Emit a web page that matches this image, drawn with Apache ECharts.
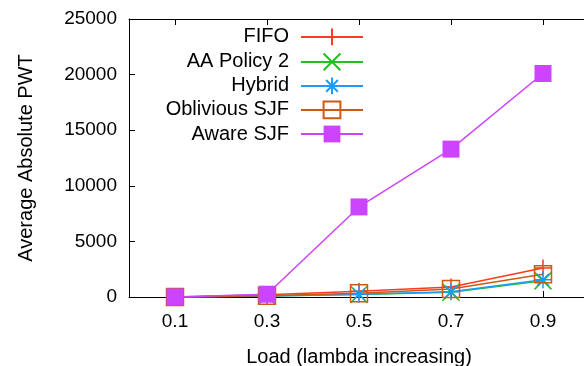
<!DOCTYPE html>
<html>
<head>
<meta charset="utf-8">
<script src="https://cdn.jsdelivr.net/npm/echarts@6/dist/echarts.min.js"></script>
<style>
  html, body { margin: 0; padding: 0; background: #fff; }
  #chart { width: 584px; height: 366px; }
</style>
</head>
<body>
<div id="chart"></div>
<script>
// --- data ---
const loads = [0.1, 0.3, 0.5, 0.7, 0.9];
const fifo = [10, 200, 520, 900, 2600];
const aaPolicy2 = [5, 90, 220, 420, 1450];
const hybrid = [5, 100, 250, 480, 1550];
const obliviousSjf = [8, 120, 330, 720, 2050];
const awareSjf = [10, 250, 8100, 13300, 20100];
const yTicks = [0, 5000, 10000, 15000, 20000, 25000];

const seriesNames = ['FIFO', 'AA Policy 2', 'Hybrid', 'Oblivious SJF', 'Aware SJF'];
const seriesValues = [fifo, aaPolicy2, hybrid, obliviousSjf, awareSjf];
const colors = ['#ff3a1e', '#1fc21f', '#1a9cff', '#cc5a14', '#cc44ff'];
const symbols = [
    'path://M5,0V10M0,5H10',
    'path://M0,0L10,10M10,0L0,10',
    'path://M0,5H10M5,0V10M1.5,1.5L8.5,8.5M8.5,1.5L1.5,8.5',
    'path://M0,0H10V10H0Z',
    'rect'
];
const legendRows = [26, 51, 75, 99, 124];

const font = '"Liberation Sans", Arial, Helvetica, sans-serif';
const chart = echarts.init(document.getElementById('chart'));

const series = seriesNames.map((name, i) => {
    const filled = i === 4;
    return {
        name: name,
        type: 'line',
        data: loads.map((x, j) => [x, seriesValues[i][j]]),
        symbol: symbols[i],
        symbolSize: 17,
        symbolKeepAspect: true,
        showAllSymbol: true,
        color: colors[i],
        lineStyle: { color: colors[i], width: 1.5 },
        itemStyle: {
            color: filled ? colors[i] : 'none',
            borderColor: colors[i],
            borderWidth: filled ? 0 : 1.5
        },
        emphasis: { disabled: true },
        animation: false
    };
});

const legends = seriesNames.map((name, i) => ({
    data: [name],
    right: 220,
    top: legendRows[i],
    align: 'right',
    itemWidth: 62,
    itemHeight: 21,
    padding: 0,
    selectedMode: false,
    textStyle: { fontFamily: font, fontSize: 20, color: '#000', padding: [0, 7, 0, 0] }
}));

chart.setOption({
    backgroundColor: '#fff',
    animation: false,
    legend: legends,
    grid: { left: 129, right: -5, top: 19, bottom: 69, containLabel: false, outerBoundsMode: 'none' },
    xAxis: [{
        type: 'value',
        min: 0,
        max: 1,
        name: 'Load (lambda increasing)',
        nameLocation: 'middle',
        nameGap: 50,
        nameTextStyle: { fontFamily: font, fontSize: 20, color: '#000' },
        axisLine: { lineStyle: { color: '#000', width: 1 } },
        axisTick: { inside: true, length: 6, customValues: loads, lineStyle: { color: '#000' } },
        axisLabel: { customValues: loads, margin: 15, fontFamily: font, fontSize: 19, color: '#000' },
        splitLine: { show: false }
    }, {
        type: 'value',
        position: 'top',
        min: 0,
        max: 1,
        axisLine: { show: true, onZero: false, lineStyle: { color: '#000', width: 1 } },
        axisTick: { inside: true, length: 6, customValues: loads, lineStyle: { color: '#000' } },
        axisLabel: { show: false },
        splitLine: { show: false }
    }],
    yAxis: [{
        type: 'value',
        min: yTicks[0],
        max: yTicks[yTicks.length - 1],
        interval: 5000,
        name: 'Average Absolute PWT',
        nameLocation: 'middle',
        nameGap: 93,
        nameTextStyle: { fontFamily: font, fontSize: 20, color: '#000' },
        axisLine: { show: true, lineStyle: { color: '#000', width: 1 } },
        axisTick: { show: true, inside: true, length: 6, lineStyle: { color: '#000' } },
        axisLabel: { margin: 12, fontFamily: font, fontSize: 19, color: '#000', formatter: v => String(v) },
        splitLine: { show: false }
    }],
    series: series
});
</script>
</body>
</html>
